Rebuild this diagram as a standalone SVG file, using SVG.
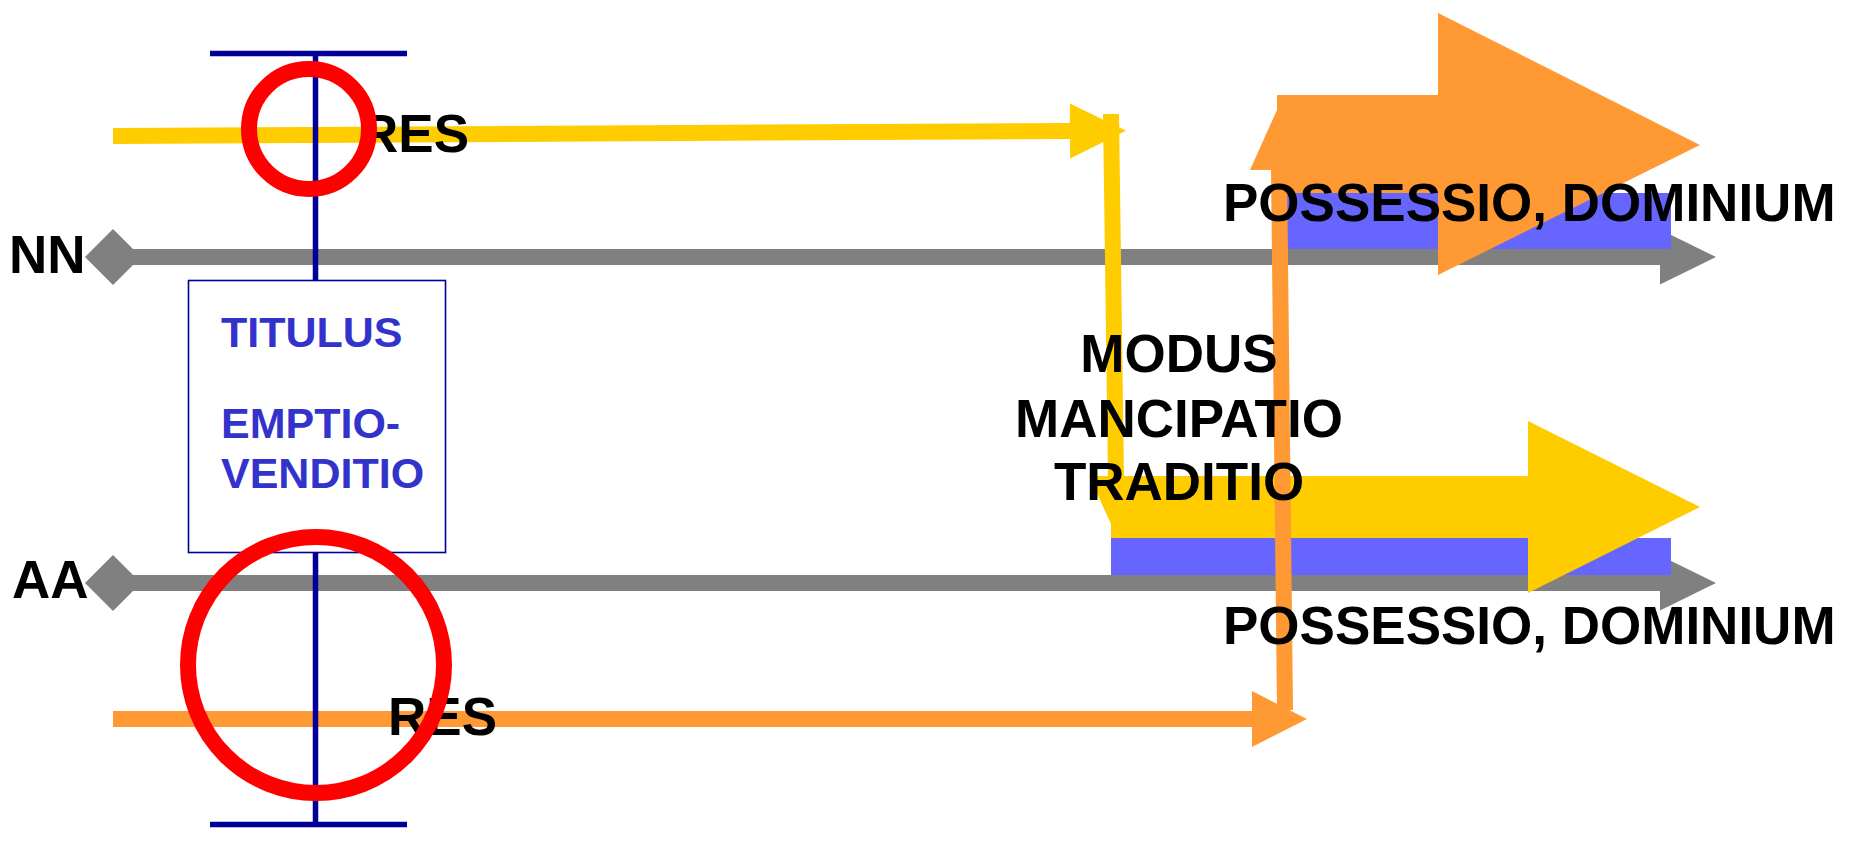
<svg xmlns="http://www.w3.org/2000/svg" width="1865" height="842" viewBox="0 0 1865 842">
<style>
.lbl{font-family:"Liberation Sans",Arial,Helvetica,sans-serif;font-weight:bold;font-size:53px;fill:#000}
.tit{font-family:"Liberation Sans",Arial,Helvetica,sans-serif;font-weight:bold;font-size:43px;fill:#3333CC}
.grey{stroke:#808080;stroke-width:16;fill:none}
.yel{stroke:#FFCC00;stroke-width:16;fill:none}
.ora{stroke:#FF9933;stroke-width:16;fill:none}
.navy{stroke:#000099;stroke-width:5.5;fill:none}
.ring{stroke:#FF0000;stroke-width:16;fill:none}
.blue{fill:#6666FF}
</style>
<defs>
<marker id="ahGrey" markerUnits="userSpaceOnUse" markerWidth="57" markerHeight="56" refX="0" refY="27.5" orient="auto" overflow="visible"><path d="M0,0 L56,27.5 L0,55 Z" fill="#808080"/></marker>
<marker id="ahYel" markerUnits="userSpaceOnUse" markerWidth="57" markerHeight="56" refX="0" refY="27.5" orient="auto" overflow="visible"><path d="M0,0 L56,27.5 L0,55 Z" fill="#FFCC00"/></marker>
<marker id="ahOra" markerUnits="userSpaceOnUse" markerWidth="57" markerHeight="56" refX="0" refY="28" orient="auto" overflow="visible"><path d="M0,0 L55,28 L0,56 Z" fill="#FF9933"/></marker>
<marker id="dmGrey" markerUnits="userSpaceOnUse" markerWidth="57" markerHeight="57" refX="28" refY="28" orient="auto" overflow="visible"><path d="M0,28 L28,0 L56,28 L28,56 Z" fill="#808080"/></marker>
</defs>

<g id="connectors">
  <line id="line-NN" class="grey" x1="113" y1="257" x2="1660" y2="257" marker-start="url(#dmGrey)" marker-end="url(#ahGrey)"/>
  <line id="line-AA" class="grey" x1="113" y1="583" x2="1660" y2="583" marker-start="url(#dmGrey)" marker-end="url(#ahGrey)"/>
</g>

<g id="result-top">
  <rect class="blue" x="1287" y="193" width="384" height="56"/>
  <path d="M1277,95 H1438 V13 L1700,145 L1438,275 V193 H1277 Z" fill="#FF9933"/>
  <path d="M1277,110 L1250,170 L1279,170 Z" fill="#FF9933"/>
</g>
<g id="result-bottom">
  <rect class="blue" x="1111" y="538" width="560" height="37"/>
  <path d="M1111,476 H1528 V421 L1700,507 L1528,593 V538 H1111 Z" fill="#FFCC00"/>
  <path d="M1111,476 L1089,476 L1111,524 Z" fill="#FFCC00"/>
</g>

<g id="connectors-flow">
  <line class="yel" x1="1111" y1="114" x2="1116" y2="480"/>
  <line class="ora" x1="1279" y1="168" x2="1285" y2="710"/>
  <line class="yel" x1="113" y1="136" x2="1070" y2="131" marker-end="url(#ahYel)"/>
  <line class="ora" x1="113" y1="719" x2="1252" y2="719" marker-end="url(#ahOra)"/>
</g>

<g id="axis">
  <line class="navy" x1="210" y1="53.5" x2="407" y2="53.5"/>
  <line class="navy" x1="315.5" y1="53.5" x2="315.5" y2="280"/>
  <line class="navy" x1="315.5" y1="553" x2="315.5" y2="824.5"/>
  <line class="navy" x1="210" y1="824.5" x2="407" y2="824.5"/>
</g>

<g id="titulus">
  <rect x="188.5" y="280.5" width="257" height="272" fill="#FFFFFF" stroke="#000099" stroke-width="1.6"/>
  <text class="tit" x="221" y="347">TITULUS</text>
  <text class="tit" x="221" y="438">EMPTIO-</text>
  <text class="tit" x="221" y="488">VENDITIO</text>
</g>

<g id="node-NN"><text class="lbl" x="9" y="273">NN</text></g>
<g id="node-AA"><text class="lbl" x="12" y="598">AA</text></g>
<g id="res-top"><text class="lbl" x="360" y="152">RES</text></g>
<g id="res-bottom"><text class="lbl" x="388" y="735">RES</text></g>
<g id="modus">
  <text class="lbl" x="1179" y="372" text-anchor="middle">MODUS</text>
  <text class="lbl" x="1179" y="437" text-anchor="middle">MANCIPATIO</text>
  <text class="lbl" x="1179" y="500" text-anchor="middle">TRADITIO</text>
</g>
<g id="possessio-top"><text class="lbl" x="1223" y="221">POSSESSIO, DOMINIUM</text></g>
<g id="possessio-bottom"><text class="lbl" x="1223" y="644">POSSESSIO, DOMINIUM</text></g>

<g id="ring-top"><circle class="ring" cx="309" cy="129" r="60"/></g>
<g id="ring-bottom"><circle class="ring" cx="316" cy="665" r="128"/></g>
</svg>
